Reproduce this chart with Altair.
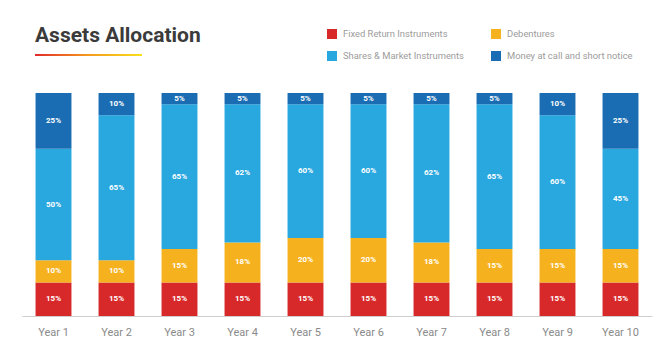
import altair as alt
import pandas as pd

years = ["Year 1", "Year 2", "Year 3", "Year 4", "Year 5",
         "Year 6", "Year 7", "Year 8", "Year 9", "Year 10"]
fixed_return = [15, 15, 15, 15, 15, 15, 15, 15, 15, 15]
debentures = [10, 10, 15, 18, 20, 20, 18, 15, 15, 15]
shares = [50, 65, 65, 62, 60, 60, 62, 65, 60, 45]
money_call = [25, 10, 5, 5, 5, 5, 5, 5, 10, 25]

series_names = ["Fixed Return Instruments", "Debentures",
                "Shares & Market Instruments", "Money at call and short notice"]
series_values = [fixed_return, debentures, shares, money_call]
series_colors = ["#d8292a", "#f6b21e", "#29a7df", "#1a6db3"]

rows = []
for si, (name, vals) in enumerate(zip(series_names, series_values)):
    for yi, (yr, v) in enumerate(zip(years, vals)):
        rows.append({"year": yr, "series": name, "value": v, "order": si})
df = pd.DataFrame(rows)

FONT = "Roboto"

base = alt.Chart(df).transform_stack(
    stack="value", groupby=["year"], sort=[alt.SortField("order", order="ascending")],
    as_=["y0", "y1"]
).transform_calculate(mid="(datum.y0 + datum.y1) / 2", lbl="datum.value + '%'")

xenc = alt.X("year:N", sort=years, title=None,
             scale=alt.Scale(paddingInner=0.43, paddingOuter=0.215),
             axis=alt.Axis(labelAngle=0, labelFont=FONT, labelFontSize=11, labelColor="#8a8a8a",
                           labelPadding=10, ticks=False, domainColor="#cfcfcf", domainWidth=1))

bars = base.mark_bar().encode(
    x=xenc,
    y=alt.Y("y0:Q", scale=alt.Scale(domain=[0, 100], nice=False), axis=None),
    y2="y1:Q",
    color=alt.Color("series:N", scale=alt.Scale(domain=series_names, range=series_colors),
                    legend=alt.Legend(orient="none", legendX=305, legendY=-64, columns=2,
                                      direction="horizontal",
                                      title=None, symbolType="square", symbolSize=100,
                                      symbolStrokeWidth=0, labelFont=FONT, labelFontSize=9.4,
                                      labelColor="#9c9c9c", labelOffset=6, rowPadding=12,
                                      columnPadding=27, padding=0, labelLimit=300)),
)

labels = base.mark_text(color="white", font=FONT, fontSize=8, fontWeight="bold").encode(
    x=alt.X("year:N", sort=years),
    y=alt.Y("mid:Q"),
    text="lbl:N",
)

title_df = pd.DataFrame({"t": ["Assets Allocation"]})
title = alt.Chart(title_df).mark_text(
    font=FONT, fontSize=21, fontWeight="bold", color="#3b3b3b", align="left", baseline="alphabetic"
).encode(text="t:N", x=alt.value(13), y=alt.value(-51))

underline = alt.Chart(title_df).mark_rect(
    fill=alt.LinearGradient(gradient="linear", x1=0, x2=1, y1=0, y2=0,
                            stops=[alt.GradientStop(offset=0, color="#e02a2a"),
                                   alt.GradientStop(offset=0.5, color="#f59a1e"),
                                   alt.GradientStop(offset=1, color="#f8e01c")])
).encode(x=alt.value(13), x2=alt.value(120), y=alt.value(-39), y2=alt.value(-37))

chart = alt.layer(bars, labels, title, underline).properties(
    width=630, height=223,
    autosize=alt.AutoSizeParams(type="none"),
    padding={"left": 22, "top": 93, "right": 8, "bottom": 37},
    background="white",
).configure_view(stroke=None)

chart.save("out.html", embed_options={"renderer": "svg", "actions": False})
